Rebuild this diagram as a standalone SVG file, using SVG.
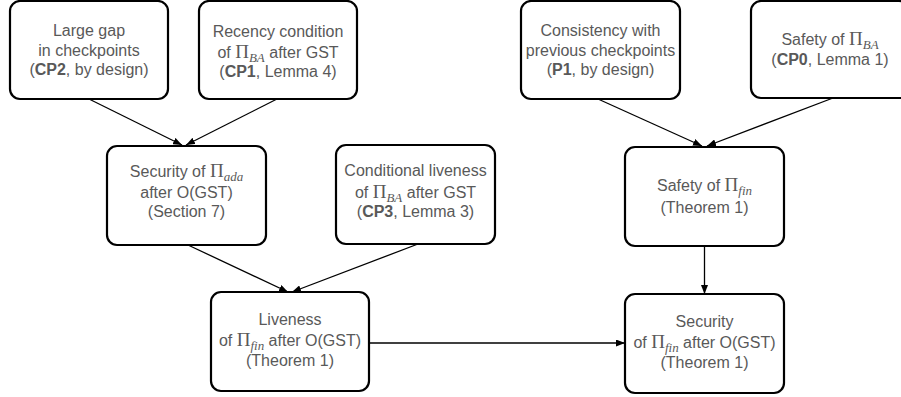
<svg xmlns="http://www.w3.org/2000/svg" width="901" height="397" viewBox="0 0 901 397">
<style>
.box { fill: #fff; stroke: #000; stroke-width: 2.2; }
.t { font-family: "Liberation Sans", Arial, sans-serif; font-size: 16px; fill: #595959; text-anchor: middle; }
.pi { font-family: "Liberation Serif", "Times New Roman", serif; font-size: 19px; }
.sub { font-family: "Liberation Serif", "Times New Roman", serif; font-style: italic; font-size: 13px; }
.b { font-weight: bold; }
.edge { stroke: #000; stroke-width: 1.3; fill: none; marker-end: url(#ah); }
</style>
<defs>
<marker id="ah" markerUnits="userSpaceOnUse" markerWidth="9" markerHeight="7" refX="9" refY="3.5" orient="auto">
<path d="M0,0 L9,3.5 L0,7 z" fill="#000"/>
</marker>
</defs>
<rect width="901" height="397" fill="#fff"/>
<g id="connectors">
<path class="edge" d="M89,99 L182,145"/>
<path class="edge" d="M277,99 L186,145"/>
<path class="edge" d="M598,99 L702,146"/>
<path class="edge" d="M833,98 L707,146"/>
<path class="edge" d="M188,245 L288,292"/>
<path class="edge" d="M418,244 L292,292"/>
<path class="edge" d="M704.5,246 L704.5,294"/>
<path class="edge" d="M369,343 L625,343"/>
</g>
<g id="n1">
<rect class="box" x="10" y="1" width="158" height="98" rx="10"/>
<text class="t" x="89" y="36">Large gap</text>
<text class="t" x="89" y="55.5">in checkpoints</text>
<text class="t" x="89" y="75">(<tspan class="b">CP2</tspan>, by design)</text>
</g>
<g id="n2">
<rect class="box" x="199" y="1" width="158" height="98" rx="10"/>
<text class="t" x="278" y="37">Recency condition</text>
<text class="t" x="278" y="58">of <tspan class="pi">Π</tspan><tspan class="sub" dy="4">BA</tspan><tspan dy="-4"> after GST</tspan></text>
<text class="t" x="278" y="77">(<tspan class="b">CP1</tspan>, Lemma 4)</text>
</g>
<g id="n3">
<rect class="box" x="521" y="1" width="159" height="98" rx="10"/>
<text class="t" x="600.5" y="36">Consistency with</text>
<text class="t" x="600.5" y="55.5">previous checkpoints</text>
<text class="t" x="600.5" y="75">(<tspan class="b">P1</tspan>, by design)</text>
</g>
<g id="n4">
<rect class="box" x="751" y="1" width="158" height="97" rx="10"/>
<text class="t" x="830" y="45">Safety of <tspan class="pi">Π</tspan><tspan class="sub" dy="4">BA</tspan></text>
<text class="t" x="830" y="65">(<tspan class="b">CP0</tspan>, Lemma 1)</text>
</g>
<g id="n5">
<rect class="box" x="107" y="146" width="159" height="99" rx="10"/>
<text class="t" x="186.5" y="177">Security of <tspan class="pi">Π</tspan><tspan class="sub" dy="4">ada</tspan></text>
<text class="t" x="186.5" y="198">after O(GST)</text>
<text class="t" x="186.5" y="217">(Section 7)</text>
</g>
<g id="n6">
<rect class="box" x="336" y="145" width="159" height="99" rx="10"/>
<text class="t" x="415.5" y="176">Conditional liveness</text>
<text class="t" x="415.5" y="198">of <tspan class="pi">Π</tspan><tspan class="sub" dy="4">BA</tspan><tspan dy="-4"> after GST</tspan></text>
<text class="t" x="415.5" y="217">(<tspan class="b">CP3</tspan>, Lemma 3)</text>
</g>
<g id="n7">
<rect class="box" x="625" y="147" width="159" height="99" rx="10"/>
<text class="t" x="704.5" y="191">Safety of <tspan class="pi">Π</tspan><tspan class="sub" dy="4">fin</tspan></text>
<text class="t" x="704.5" y="213">(Theorem 1)</text>
</g>
<g id="n8">
<rect class="box" x="211" y="292" width="158" height="99" rx="10"/>
<text class="t" x="290" y="325">Liveness</text>
<text class="t" x="290" y="346">of <tspan class="pi">Π</tspan><tspan class="sub" dy="4">fin</tspan><tspan dy="-4"> after O(GST)</tspan></text>
<text class="t" x="290" y="366">(Theorem 1)</text>
</g>
<g id="n9">
<rect class="box" x="625" y="294" width="159" height="99" rx="10"/>
<text class="t" x="704.5" y="327">Security</text>
<text class="t" x="704.5" y="348">of <tspan class="pi">Π</tspan><tspan class="sub" dy="4">fin</tspan><tspan dy="-4"> after O(GST)</tspan></text>
<text class="t" x="704.5" y="368">(Theorem 1)</text>
</g>
</svg>
